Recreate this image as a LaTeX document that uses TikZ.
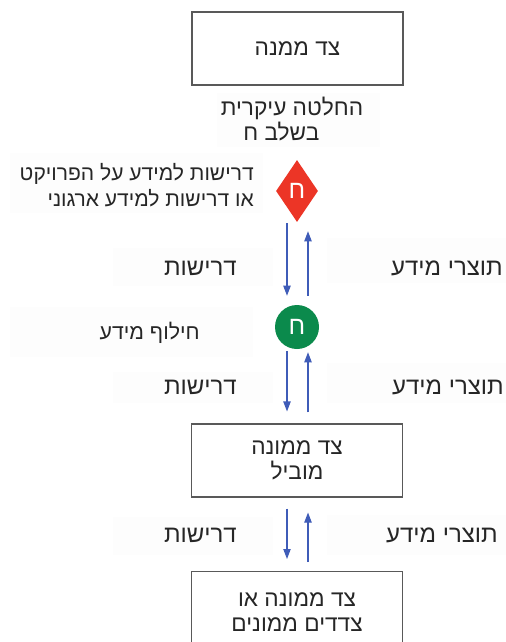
\documentclass[tikz,border=0pt]{standalone}
\usepackage{fontspec}
\usetikzlibrary{shapes.geometric,arrows.meta,calc}
\TeXXeTstate=1
\newfontfamily\hebfont[Script=Hebrew]{Liberation Sans}
\newcommand{\heb}[1]{\beginR #1\endR}
\definecolor{linkblue}{HTML}{3F5CB8}
\definecolor{markred}{HTML}{EC3526}
\definecolor{markgreen}{HTML}{0B8A4C}
\definecolor{boxline}{HTML}{595959}
\definecolor{labelbg}{HTML}{FDFDFD}
\begin{document}
\begin{tikzpicture}[x=0.75pt,y=-0.75pt,
  every node/.style={font=\hebfont\fontsize{17}{18.75}\selectfont, text=black!85},
  party/.style={draw=boxline, line width=0.8pt, fill=white, minimum width=158.25pt, minimum height=54.75pt, inner sep=0pt, align=center},
  tag/.style={anchor=east, align=right, inner sep=0pt},
  flowtag/.style={tag, font=\hebfont\fontsize{18}{18.75}\selectfont},
  glyph/.style={text=white, font=\hebfont\fontsize{19}{19}\selectfont, inner sep=0pt},
  flow/.style={draw=linkblue, line width=0.8pt, -{Triangle[width=5.5pt,length=7.5pt]}},
  panel/.style={fill=labelbg}]
\useasboundingbox (0,0) rectangle (506,642);
\clip (0,0) rectangle (506,642);
\fill[white] (0,0) rectangle (506,642);

% faint panels behind the free labels
\fill[panel] (217,93) rectangle (380,147);
\fill[panel] (10,153) rectangle (263,213);
\fill[panel] (113,248) rectangle (273,286);
\fill[panel] (327,238) rectangle (506,283);
\fill[panel] (10,307) rectangle (253,357);
\fill[panel] (113,372) rectangle (273,403);
\fill[panel] (327,363) rectangle (506,403);
\fill[panel] (113,517) rectangle (273,555);
\fill[panel] (327,515) rectangle (506,555);

% parties
\node[party] (top) at (297.5,48.5) {\heb{צד ממנה}};
\node[party] (lead) at (297,460.5) {\heb{צד ממונה}\\\heb{מוביל}};
\node[party, minimum height=75pt, anchor=north] (appointed) at (297,571) {};
\node (appointedtxt) at (297,612) [align=center] {\heb{צד ממונה או}\\\heb{צדדים ממונים}};

% decision and exchange markers
\node[diamond, fill=markred, minimum width=31.5pt, minimum height=46.5pt, inner sep=0pt] (decision) at (297,191) {};
\node[glyph] (decisionletter) at (decision) {\heb{ח}};
\node[circle, fill=markgreen, minimum size=33pt, inner sep=0pt] (exchange) at (297,327) {};
\node[glyph] (exchangeletter) at (exchange) {\heb{ח}};

% labels
\node[align=center] (keydecision) at (292,119) {\heb{החלטה עיקרית}\\\heb{בשלב ח}\kern16pt};
\node[tag, font=\hebfont\fontsize{15.8}{19.5}\selectfont] (needs) at (254,185) {\heb{דרישות למידע על הפרויקט}\\\heb{או דרישות למידע ארגוני}};
\node[flowtag] (req1) at (237,268) {\heb{דרישות}};
\node[flowtag] (out1) at (503,268) {\heb{תוצרי מידע}};
\node[tag, font=\hebfont\fontsize{16}{18}\selectfont] (swap) at (200,333) {\heb{חילוף מידע}};
\node[flowtag] (req2) at (237,387) {\heb{דרישות}};
\node[flowtag] (out2) at (504,387) {\heb{תוצרי מידע}};
\node[flowtag] (req3) at (237,535) {\heb{דרישות}};
\node[flowtag] (out3) at (498,535) {\heb{תוצרי מידע}};

% requirement and output flows
\draw[flow] ($(decision.south)+(-10,1)$) -- ($(exchange.north)+(-10,-9)$);
\draw[flow] ($(exchange.north)+(11,-9)$) -- ($(decision.south)+(11,9)$);
\draw[flow] ($(exchange.south)+(-10,2)$) -- ($(lead.north)+(-10,-12)$);
\draw[flow] ($(lead.north)+(11,-11)$) -- ($(exchange.south)+(11,3)$);
\draw[flow] ($(lead.south)+(-10,11)$) -- ($(appointed.north)+(-10,-12)$);
\draw[flow] ($(appointed.north)+(11,-9)$) -- ($(lead.south)+(11,15)$);
\end{tikzpicture}
\end{document}
